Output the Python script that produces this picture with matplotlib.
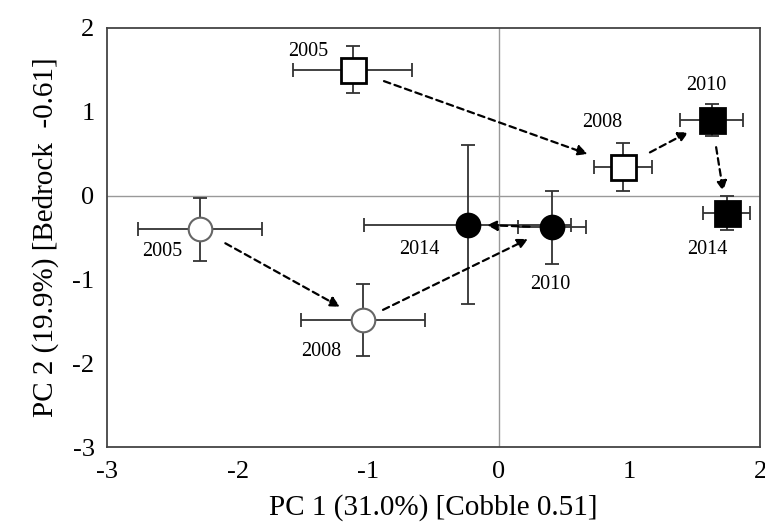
import matplotlib
matplotlib.use("Agg")
import matplotlib.pyplot as plt

plt.rcParams['font.family'] = ['Liberation Serif', 'DejaVu Serif']
plt.rcParams['axes.unicode_minus'] = False

# PCA scores (mean +/- error) per year, two site groups
years = ['2005', '2008', '2010', '2014']

sq_x = [-1.12, 0.95, 1.63, 1.745]
sq_y = [1.50, 0.345, 0.905, -0.21]
sq_xerr = [0.455, 0.22, 0.24, 0.18]
sq_yerr = [0.28, 0.285, 0.19, 0.20]
sq_filled = [False, False, True, True]

ci_x = [-2.29, -1.04, 0.405, -0.24]
ci_y = [-0.40, -1.48, -0.38, -0.345]
ci_xerr = [0.475, 0.475, 0.26, 0.79]
ci_yerr = [0.375, 0.43, 0.435, 0.95]
ci_filled = [False, False, True, True]

# label offsets in points, per year
sq_lab_off = [(-32, 13), (-15, 32), (-4, 25), (-14, -26)]
ci_lab_off = [(-27, -16), (-30, -23), (-1, -41), (-35, -18)]

# arrow shrink (start, end) in points
sq_shrink = [(24, 27), (22, 19), (20, 16)]
ci_shrink = [(21, 19), (16, 19), (16, 14)]

fig = plt.figure(figsize=(7.65, 5.28), dpi=100)
ax = fig.add_axes([0.140, 0.1534, 0.8535, 0.7936])

ax.axhline(0, color='#999999', lw=1.0, zorder=0)
ax.axvline(0, color='#999999', lw=1.0, zorder=0)

err_kw = dict(ecolor='#333333', elinewidth=1.3, capsize=5, capthick=1.3, ls='none')

for i in range(4):
    ax.errorbar(sq_x[i], sq_y[i], xerr=sq_xerr[i], yerr=sq_yerr[i], **err_kw, zorder=2)
    ax.plot(sq_x[i], sq_y[i], marker='s', ms=18, mec='black', mew=2.0,
            mfc='black' if sq_filled[i] else 'white', ls='none', zorder=3)
    ax.errorbar(ci_x[i], ci_y[i], xerr=ci_xerr[i], yerr=ci_yerr[i], **err_kw, zorder=2)
    ax.plot(ci_x[i], ci_y[i], marker='o', ms=17, mec='black' if ci_filled[i] else '#666666',
            mew=1.5, mfc='black' if ci_filled[i] else 'white', ls='none', zorder=3)
    ax.annotate(years[i], (sq_x[i], sq_y[i]), xytext=sq_lab_off[i], textcoords='offset points',
                ha='center', va='center', fontsize=14.5)
    ax.annotate(years[i], (ci_x[i], ci_y[i]), xytext=ci_lab_off[i], textcoords='offset points',
                ha='center', va='center', fontsize=14.5)

arrow_kw = dict(arrowstyle='-|>,head_length=0.6,head_width=0.3', color='black',
                lw=1.6, linestyle=(0, (3, 2)))
for i in range(3):
    ax.annotate('', xy=(sq_x[i + 1], sq_y[i + 1]), xytext=(sq_x[i], sq_y[i]),
                arrowprops=dict(**arrow_kw, shrinkA=sq_shrink[i][0], shrinkB=sq_shrink[i][1]),
                zorder=4)
    ax.annotate('', xy=(ci_x[i + 1], ci_y[i + 1]), xytext=(ci_x[i], ci_y[i]),
                arrowprops=dict(**arrow_kw, shrinkA=ci_shrink[i][0], shrinkB=ci_shrink[i][1]),
                zorder=4)

ax.set_xlim(-3, 2)
ax.set_ylim(-3, 2)
ax.set_xticks([-3, -2, -1, 0, 1, 2])
ax.set_yticks([-3, -2, -1, 0, 1, 2])
ax.tick_params(length=0, labelsize=19)
ax.tick_params(axis='x', pad=10)
ax.tick_params(axis='y', pad=9)
for s in ax.spines.values():
    s.set_color('#444444')
    s.set_linewidth(1.3)

ax.set_xlabel('PC 1 (31.0%) [Cobble 0.51]', fontsize=21, labelpad=8)
ax.set_ylabel('PC 2 (19.9%) [Bedrock  -0.61]', fontsize=21, labelpad=10)

fig.savefig('out.png', dpi=100)
